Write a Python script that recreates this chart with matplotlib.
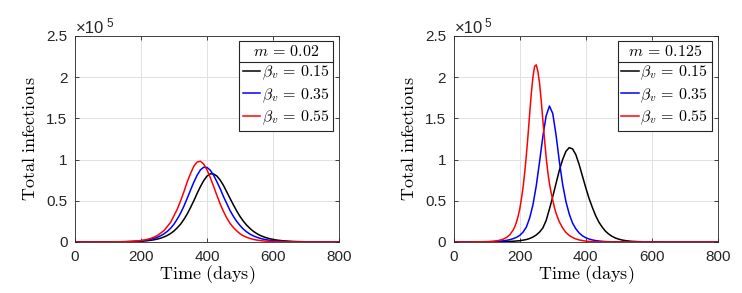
import matplotlib
matplotlib.use("Agg")
import matplotlib.pyplot as plt
from matplotlib.lines import Line2D

plt.rcParams['font.family'] = ['Liberation Sans', 'DejaVu Sans']
plt.rcParams['mathtext.fontset'] = 'cm'

# x grids (days)
days_a = [0, 100] + list(range(150, 701, 10)) + [800]
days_b = [0, 50] + list(range(100, 601, 10)) + [700, 800]
days_red_b = ([0, 50] + list(range(100, 181, 10)) + list(range(185, 321, 5))
              + list(range(330, 451, 10)) + [500, 600, 800])

# panel a: m = 0.02  (values in units of 1e5)
black_a = [0, 0.0007,
           0.0023, 0.003, 0.004, 0.0055, 0.007, 0.009, 0.012, 0.016, 0.021, 0.027,
           0.036, 0.047, 0.062, 0.08, 0.104, 0.134, 0.173, 0.217, 0.274, 0.34,
           0.418, 0.50, 0.59, 0.672, 0.745, 0.80, 0.828, 0.825, 0.80, 0.75,
           0.685, 0.607, 0.527, 0.45, 0.376, 0.31, 0.253, 0.205, 0.165, 0.131,
           0.104, 0.082, 0.065, 0.051, 0.04, 0.031, 0.024, 0.019, 0.015, 0.012,
           0.009, 0.007, 0.0055, 0.0043, 0.0034, 0.0027,
           0]
blue_a = [0, 0.001,
          0.0033, 0.0045, 0.006, 0.008, 0.011, 0.014, 0.019, 0.025, 0.034, 0.044,
          0.058, 0.077, 0.10, 0.13, 0.168, 0.217, 0.28, 0.35, 0.435, 0.53,
          0.63, 0.725, 0.81, 0.875, 0.907, 0.905, 0.87, 0.81, 0.73, 0.645,
          0.55, 0.465, 0.38, 0.31, 0.25, 0.20, 0.157, 0.123, 0.096, 0.075,
          0.059, 0.045, 0.035, 0.027, 0.021, 0.016, 0.012, 0.009, 0.007, 0.005,
          0.004, 0.003, 0.002, 0.0015, 0.0011, 0.0008,
          0]
red_a = [0, 0.001,
         0.004, 0.0055, 0.0075, 0.01, 0.013, 0.018, 0.024, 0.033, 0.044, 0.06,
         0.08, 0.11, 0.14, 0.19, 0.24, 0.32, 0.40, 0.50, 0.61, 0.73,
         0.83, 0.92, 0.97, 0.98, 0.945, 0.875, 0.78, 0.675, 0.565, 0.46,
         0.37, 0.29, 0.225, 0.175, 0.135, 0.10, 0.075, 0.057, 0.043, 0.032,
         0.024, 0.018, 0.013, 0.01, 0.0075, 0.0055, 0.004, 0.003, 0.0022, 0.0016,
         0.0012, 0.0009, 0.0007, 0.0005, 0.0004, 0.0003,
         0]

# panel b: m = 0.125
black_b = [0, 0.0005,
           0.001, 0.0015, 0.002, 0.0025, 0.003, 0.004, 0.005, 0.007, 0.009, 0.012,
           0.016, 0.022, 0.03, 0.042, 0.06, 0.085, 0.12, 0.17, 0.26, 0.40,
           0.55, 0.71, 0.87, 1.00, 1.10, 1.145, 1.13, 1.06, 0.94, 0.80,
           0.66, 0.53, 0.42, 0.32, 0.24, 0.18, 0.13, 0.095, 0.068, 0.048,
           0.034, 0.024, 0.017, 0.012, 0.008, 0.006, 0.004, 0.003, 0.002, 0.0015,
           0.001,
           0.0002, 0]
blue_b = [0, 0.0005,
          0.002, 0.003, 0.005, 0.007, 0.01, 0.014, 0.02, 0.028, 0.04, 0.056,
          0.08, 0.12, 0.18, 0.29, 0.45, 0.68, 0.97, 1.28, 1.53, 1.65,
          1.56, 1.30, 0.98, 0.70, 0.49, 0.34, 0.23, 0.16, 0.11, 0.075,
          0.052, 0.036, 0.025, 0.017, 0.012, 0.008, 0.005, 0.0035, 0.0025, 0.0017,
          0.0012, 0.0008, 0.0006, 0.0004, 0.0003, 0.0002, 0.0001, 0.0001, 0, 0,
          0,
          0, 0]
red_b = [0, 0.0005,
         0.004, 0.006, 0.009, 0.014, 0.022, 0.035, 0.055, 0.088, 0.145,
         0.185, 0.24, 0.31, 0.40, 0.52, 0.66, 0.84, 1.05, 1.29, 1.55,
         1.80, 2.00, 2.13, 2.15, 2.07, 1.93, 1.72, 1.48, 1.25, 1.03,
         0.85, 0.71, 0.60, 0.51, 0.42, 0.35, 0.295, 0.245,
         0.17, 0.115, 0.08, 0.055, 0.037, 0.025, 0.017, 0.011, 0.007, 0.005,
         0.0035, 0.0025, 0.0018,
         0.0004, 0, 0]

beta_labels = [r'$\beta_v \,=\, 0.15$', r'$\beta_v \,=\, 0.35$', r'$\beta_v \,=\, 0.55$']
colors = ['black', 'blue', 'red']
panels = [
    ([days_a, days_a, days_a], [black_a, blue_a, red_a], r'$m \,=\, 0.02$'),
    ([days_b, days_b, days_red_b], [black_b, blue_b, red_b], r'$m \,=\, 0.125$'),
]

fig = plt.figure(figsize=(7.42, 2.93), dpi=100)
axes = [fig.add_axes([0.1011, 0.1741, 0.3558, 0.7031]),
        fig.add_axes([0.6115, 0.1741, 0.3558, 0.7031])]

legends = []
for ax, (xs, series, title) in zip(axes, panels):
    for x, vals, c, lab in zip(xs, series, colors, beta_labels):
        ax.plot(x, vals, color=c, lw=1.1, label=lab)
    ax.set_xlim(0, 800)
    ax.set_ylim(0, 2.5)
    ax.set_xticks([0, 200, 400, 600, 800])
    ax.set_yticks([0, 0.5, 1, 1.5, 2, 2.5])
    ax.set_yticklabels(['0', '0.5', '1', '1.5', '2', '2.5'])
    ax.set_axisbelow(True)
    ax.grid(True, color='#e1e1e1', lw=0.7)
    ax.tick_params(direction='in', top=True, right=True, length=3, width=0.6,
                   labelsize=11, colors='#262626', pad=5.5)
    for s in ax.spines.values():
        s.set_color('#262626')
        s.set_linewidth(0.6)
    ax.set_xlabel(r'$\mathrm{Time\ (days)}$', fontsize=13, labelpad=0)
    ax.set_ylabel(r'$\mathrm{Total\ infectious}$', fontsize=13, labelpad=5)
    t1 = ax.text(0.003, 1.016, '×10', transform=ax.transAxes,
                 fontsize=12, color='#262626', ha='left', va='baseline')
    ax.annotate('5', xy=(1, 1), xycoords=t1, xytext=(1.5, -2.5),
                textcoords='offset points', fontsize=8.5, color='#262626',
                ha='left', va='center')
    leg = ax.legend(title=title, loc='upper right', bbox_to_anchor=(0.977, 0.976),
                    borderaxespad=0, fancybox=False, framealpha=1,
                    edgecolor='#262626', fontsize=11.5, title_fontsize=11.5,
                    handlelength=1.1, handletextpad=0.1, labelspacing=0.26,
                    borderpad=0.22)
    leg.get_frame().set_linewidth(0.8)
    legends.append(leg)

# separator line under the legend title
fig.canvas.draw()
inv = fig.transFigure.inverted()
for leg in legends:
    fb = leg.get_window_extent()
    tb = leg.get_title().get_window_extent()
    first = leg.get_texts()[0].get_window_extent()
    y = (tb.y0 + first.y1) / 2
    (x0, yy), (x1, _) = inv.transform([(fb.x0, y), (fb.x1, y)])
    fig.add_artist(Line2D([x0, x1], [yy, yy], color='#262626', lw=0.8,
                          transform=fig.transFigure))

fig.savefig('out.png', dpi=100)
